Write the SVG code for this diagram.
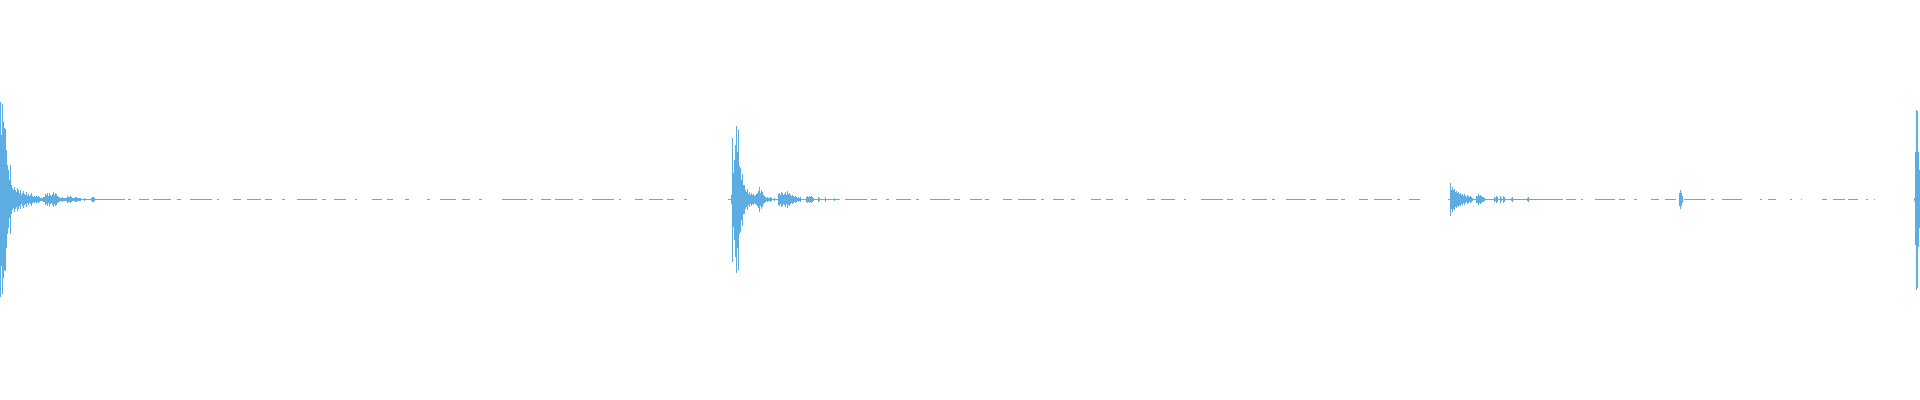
<svg xmlns="http://www.w3.org/2000/svg" width="1920" height="400" viewBox="0 0 1920 400">
<style>.w{stroke:#5DADE2;stroke-width:1;fill:none;shape-rendering:crispEdges}.d{stroke:#5DADE2;stroke-width:1;fill:none;shape-rendering:crispEdges}</style>
<rect width="1920" height="400" fill="#fff"/>
<g id="burst1" class="w">
<path d="M0.5,102V297M1.5,135V266M2.5,104V294M3.5,122V278M4.5,128V270M5.5,129V271M6.5,150V248M7.5,165V234M8.5,170V228M9.5,180V218M10.5,165V234M11.5,185V214M12.5,188V210M13.5,190V208M14.5,187V212M15.5,190V209M16.5,192V207M17.5,188V211M18.5,190V209M19.5,193V206M20.5,190V209M21.5,195V204M22.5,193V206M23.5,191V208M24.5,194V205M25.5,195V204M26.5,192V207M27.5,196V203M28.5,194V205M29.5,196V203M30.5,195V204M31.5,193V206M32.5,196V203M33.5,197V202M34.5,196V203M35.5,197V202M36.5,196V203M37.5,197V202M38.5,196V203M39.5,197V202M40.5,198V201M41.5,198V201M42.5,198V201M43.5,197V202M44.5,197V202M45.5,194V205M46.5,195V204M47.5,193V206M48.5,196V203M49.5,193V206M50.5,195V204M51.5,196V203M52.5,194V205M53.5,192V207M54.5,195V204M55.5,193V206M56.5,194V205M57.5,196V203M58.5,197V202M59.5,197V202M60.5,198V201M61.5,198V201M62.5,197V202M63.5,198V201M64.5,198V201M65.5,198V201M66.5,198V201M67.5,196V203M68.5,197V202M69.5,197V202M70.5,196V203M71.5,197V202M72.5,198V201M73.5,198V201M74.5,198V201M75.5,197V202M76.5,197V202M77.5,198V201M78.5,198V201M79.5,198V201M80.5,198V201M84.5,198V201M91.5,198V201M92.5,197V202M93.5,197V202M94.5,198V201"/>
<path class="d" d="M0,199.5H100" />
<path class="d" stroke-dasharray="25 3 3 8 10 4 18 6 4 9 22 5 2 14 8 6 14 4 7 10 3 12 20 5 4 8 12 9 2 15 10 5 6 12 4 18 3 10 16 6 8 9 3 20" d="M100,199.5H693"/>
</g>
<g id="burst2" class="w">
<path d="M731.5,195V204M732.5,138V262M733.5,173V227M734.5,160V240M735.5,145V257M736.5,126V273M737.5,152V248M738.5,130V270M739.5,166V234M740.5,168V232M741.5,180V220M742.5,174V226M743.5,185V214M744.5,185V214M745.5,190V209M746.5,192V207M747.5,189V210M748.5,194V205M749.5,192V207M750.5,195V204M751.5,193V206M752.5,195V204M753.5,194V205M754.5,196V203M755.5,195V204M756.5,194V205M757.5,193V206M758.5,191V208M759.5,187V212M760.5,193V206M761.5,190V209M762.5,192V207M763.5,195V204M764.5,196V203M765.5,197V202M766.5,198V201M767.5,197V202M768.5,198V201M769.5,198V201M770.5,197V202M771.5,198V201M774.5,198V201M778.5,194V205M779.5,193V206M780.5,195V204M781.5,192V207M782.5,193V206M783.5,195V204M784.5,194V205M785.5,192V207M786.5,195V204M787.5,191V208M788.5,194V205M789.5,193V206M790.5,195V204M791.5,196V203M792.5,195V204M793.5,196V203M794.5,197V202M795.5,196V203M796.5,197V202M797.5,198V201M798.5,197V202M799.5,198V201M800.5,197V202M806.5,197V202M807.5,196V203M808.5,197V202M809.5,196V203M810.5,197V202M811.5,196V203M812.5,197V202M813.5,198V201M818.5,197V202M819.5,198V201M825.5,197V202M834.5,198V201"/>
<path class="d" d="M728,199.5H840"/>
<path class="d" stroke-dasharray="22 4 6 9 3 7 15 5 3 11 20 4 6 10 12 3 4 14 9 6 18 5 3 9 11 7 4 16 10 5 7 12 3 19 8 6 14 9 2 15" d="M845,199.5H1422"/>
</g>
<g id="burst3" class="w">
<path d="M1450.5,183V216M1451.5,190V209M1452.5,187V212M1453.5,190V209M1454.5,189V210M1455.5,192V207M1456.5,191V208M1457.5,193V206M1458.5,192V207M1459.5,194V205M1460.5,193V206M1461.5,195V204M1462.5,194V205M1463.5,196V203M1464.5,194V205M1465.5,196V203M1466.5,197V202M1467.5,195V204M1468.5,196V203M1469.5,197V202M1470.5,196V203M1471.5,197V202M1472.5,198V201M1476.5,196V203M1477.5,196V203M1478.5,194V205M1479.5,196V203M1480.5,195V204M1481.5,196V203M1482.5,197V202M1483.5,197V202M1484.5,198V201M1494.5,197V202M1495.5,198V201M1496.5,196V203M1497.5,197V202M1500.5,196V203M1501.5,198V201M1503.5,196V203M1504.5,197V202M1511.5,198V201M1512.5,197V202M1527.5,198V201M1528.5,197V202M1679.5,193V206M1680.5,190V209M1681.5,193V206M1682.5,196V203"/>
<path class="d" d="M1448,199.5H1545"/>
<path class="d" stroke-dasharray="18 3 10 5 2 12 20 4 6 9 3 14 8 6 11 4 2 10 16 5 4 12 7 3 9" d="M1545,199.5H1677"/>
<path class="d" stroke-dasharray="22 5 3 8 20 18 2 6 8 14 2 9 1 20 5 6 12 3 10 8 2 6 1 10 14 5 6 9 3 12" d="M1684,199.5H1876"/>
</g>
<g id="burst4" class="w">
<path d="M1914.5,198V201M1915.5,152V245M1916.5,110V290M1917.5,111V288M1918.5,152V247M1919.5,170V228"/>
</g>
</svg>
